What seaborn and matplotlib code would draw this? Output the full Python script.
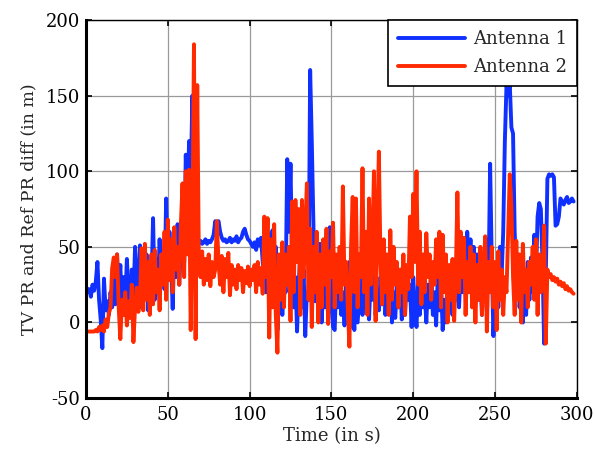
import numpy as np
import pandas as pd
import matplotlib
matplotlib.use("Agg")
import matplotlib.pyplot as plt
import seaborn as sns

# values, one sample per second (t = 0 .. 298)
antenna1 = [
    24, 20, 22, 17, 25, 21, 27, 40, 15, 2,
    -17, 29, 8, 14, 5, 20, 10, 28, 12, 45,
    18, 38, 6, 30, 12, 42, 20, 8, 35, 15,
    50, 12, 28, 51, 10, 35, 18, 45, 8, 40,
    25, 69, 15, 42, 20, 55, 28, 48, 22, 82,
    35, 60, 40, 9, 55, 30, 65, 25, 50, 75,
    40, 111, 70, 120, 90, 150, 45, 70, 53, 52,
    54, 52, 53, 55, 52, 54, 53, 55, 58, 67,
    64, 67, 60, 56, 54, 55, 53, 54, 56, 53,
    55, 54, 57, 53, 55, 56, 60, 62, 58, 55,
    54, 52, 50, 53, 48, 55, 51, 56, 40, 30,
    20, 60, 10, 45, 61, 25, 50, -5, 15, 40,
    5, 35, 20, 108, 60, 105, 40, 10, 30, -6,
    25, 45, 10, 35, -9, 20, 15, 167, 120, 65,
    14, 40, 5, 52, 0, 25, 10, 35, 2, 63,
    15, -3, -5, 30, 10, 40, 5, 20, -2, 25,
    10, 40, -3, 20, -5, 35, 0, 15, 30, 5,
    25, 10, 40, 2, 30, 15, 45, 5, 20, 8,
    30, 12, 40, 5, 25, 10, 35, 0, 20, 3,
    25, 10, 30, 2, 20, 5, 35, 15, 25, -3,
    30, 10, -3, 25, 5, 30, 10, 20, 0, 25,
    10, 35, 5, 20, -2, 30, 8, 25, -5, 15,
    0, 30, 10, 25, 5, 40, 15, 30, 10, 35,
    20, 45, 25, 60, 35, 55, 20, 50, 30, 45,
    15, 40, 5, 30, 20, 55, 25, 105, 40, -9,
    20, 35, 10, 50, 30, 60, 120, 157, 150, 158,
    129, 125, 60, 30, 45, 10, 25, 0, 35, 5,
    40, 15, 43, 20, 58, 30, 70, 79, 75, 40,
    -14, 30, 95, 98, 97, 98, 96, 64, 65, 70,
    82, 80, 78, 81, 83, 79, 80, 82, 80,
]
antenna2 = [
    -6, -6, -6, -6, -6, -6, -5, -6, -3, -5,
    -2, -6, 2, -3, 6, 10, 36, 43, 30, 45,
    10, -11, 15, 5, 20, -2, 14, 3, 25, -13,
    10, 23, 7, 16, 49, 8, 52, 15, 40, 5,
    45, 12, 48, 20, 35, 8, 45, 25, 60, 15,
    68, 28, 55, 20, 63, 35, 50, 25, 65, 92,
    30, 100, 45, 101, -5, 60, 184, -11, 157, 40,
    30, 47, 25, 42, 28, 45, 24, 40, 30, 35,
    67, 40, 25, 44, 20, 42, 30, 46, 18, 38,
    25, 35, 22, 38, 28, 36, 20, 34, 26, 37,
    24, 35, 28, 38, 20, 40, 25, 36, 19, 70,
    30, 69, -10, 55, 10, 65, 5, -20, 45, 15,
    53, 10, 45, 25, 50, 1, 80, 20, 81, 40,
    75, 5, 81, 30, 60, 92, 15, 62, -3, 50,
    20, 60, 0, 45, 10, 55, 25, 62, -1, 47,
    30, 66, 10, 45, 20, 50, 15, 90, 25, 40,
    10, -16, 50, 83, 20, 82, 10, 45, 30, 102,
    20, 60, 5, 82, 25, 50, 100, 1, 60, 113,
    40, 12, 55, 20, 45, 5, 61, 15, 50, 25,
    40, 10, 35, 20, 45, 5, 38, 22, 70, 30,
    85, 40, 100, 25, 60, 12, 45, 20, 59, 30,
    45, 15, 40, 25, 55, 30, 60, 10, 58, 20,
    45, 0, 38, 15, 42, 1, 30, 86, 20, 60,
    30, 56, 5, 40, 20, 50, 10, 45, 0, 38,
    15, 50, 5, 35, 57, -6, 40, 20, 50, 10,
    40, -5, 47, 15, 35, 5, 30, 20, 60, 98,
    77, 30, 5, 54, 15, 45, 0, 52, 20, 35,
    10, 40, 25, 50, 15, 55, 5, 45, 20, 30,
    64, -14, 35, 30, 32, 28, 30, 27, 29, 25,
    27, 24, 26, 22, 24, 21, 22, 20, 19,
]
time_s = list(range(len(antenna1)))
series_names = ["Antenna 1", "Antenna 2"]
x_ticks = [0, 50, 100, 150, 200, 250, 300]
y_ticks = [-50, 0, 50, 100, 150, 200]

df = pd.DataFrame({
    "time": time_s * 2,
    "diff": antenna1 + antenna2,
    "antenna": [series_names[0]] * len(antenna1) + [series_names[1]] * len(antenna2),
})

sns.set_theme(style="whitegrid")
plt.rcParams["font.family"] = ["DejaVu Serif"]
plt.rcParams["axes.unicode_minus"] = False

fig = plt.figure(figsize=(5.95, 4.57), dpi=100)
ax = fig.add_axes([0.1445, 0.129, 0.825, 0.827])

sns.lineplot(data=df, x="time", y="diff", hue="antenna",
             palette=["#1030ff", "#ff2a00"], estimator=None, sort=False,
             linewidth=2.8, ax=ax)

ax.set_xlim(0, 300)
ax.set_ylim(-50, 200)
ax.set_xticks(x_ticks)
ax.set_yticks(y_ticks)
ax.grid(True, color="#9a9a9a", linewidth=0.9)
ax.set_facecolor("white")
ax.tick_params(direction="in", length=4, width=1.2, labelsize=13,
               top=True, right=True, bottom=True, left=True,
               colors="black")
ax.tick_params(axis="x", pad=6)
ax.tick_params(axis="y", pad=4)
for side, spine in ax.spines.items():
    spine.set_visible(True)
    spine.set_color("black")
    spine.set_linewidth(2.2 if side in ("left", "bottom") else 1.0)

ax.set_xlabel("Time (in s)", fontsize=13, labelpad=2)
ax.set_ylabel("TV PR and Ref PR diff (in m)", fontsize=12.5, labelpad=6)

handles, labels = ax.get_legend_handles_labels()
leg = ax.legend(handles, labels, loc="upper right", fontsize=13,
                frameon=True, fancybox=False, framealpha=1,
                edgecolor="black", handlelength=3.7, handletextpad=0.45,
                borderaxespad=0.0, borderpad=0.55, labelspacing=0.55)
leg.get_frame().set_linewidth(1.2)
for line in leg.get_lines():
    line.set_linewidth(2.8)

fig.savefig("out.png", dpi=100)
